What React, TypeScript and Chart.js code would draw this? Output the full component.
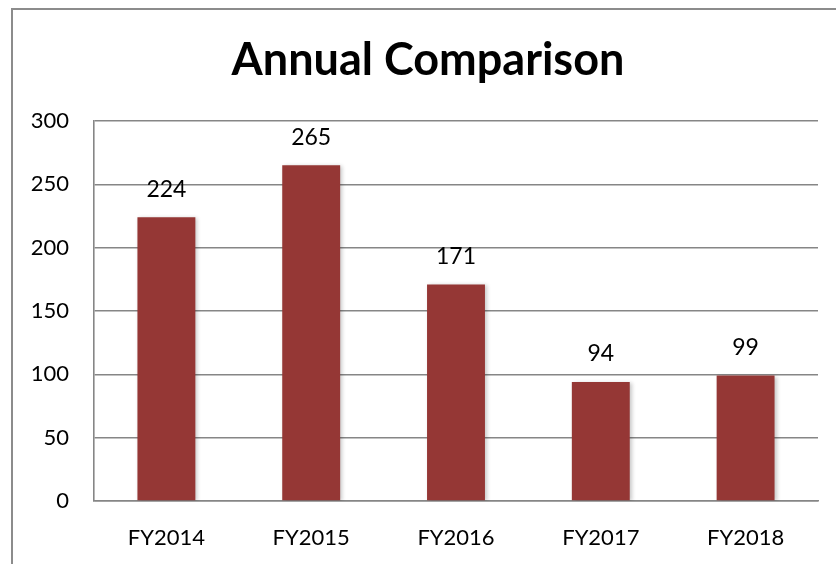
import React, { useEffect, useRef } from "react";
import { Chart, registerables } from "chart.js";

Chart.register(...registerables);

const categories = ["FY2014", "FY2015", "FY2016", "FY2017", "FY2018"];
const values = [224, 265, 171, 94, 99];
const yTicks = [0, 50, 100, 150, 200, 250, 300];
const titleText = "Annual Comparison";

const FONT = "Lato, 'Open Sans', sans-serif";

const barShadow = {
  id: "barShadow",
  beforeDatasetsDraw(chart: any) {
    const ctx = chart.ctx;
    ctx.save();
    ctx.shadowColor = "rgba(0,0,0,0.22)";
    ctx.shadowBlur = 4;
    ctx.shadowOffsetX = 2;
    ctx.shadowOffsetY = 1;
  },
  afterDatasetsDraw(chart: any) {
    chart.ctx.restore();
  },
};

const valueLabels = {
  id: "valueLabels",
  afterDatasetsDraw(chart: any) {
    const ctx = chart.ctx;
    const meta = chart.getDatasetMeta(0);
    ctx.save();
    ctx.shadowColor = "transparent";
    ctx.font = `23px ${FONT}`;
    ctx.fillStyle = "#000";
    ctx.textAlign = "center";
    ctx.textBaseline = "middle";
    meta.data.forEach((bar: any, i: number) => {
      ctx.fillText(String(chart.data.datasets[0].data[i]), bar.x, bar.y - 28);
    });
    ctx.restore();
  },
};

const centeredTitle = {
  id: "centeredTitle",
  afterDraw(chart: any) {
    const ctx = chart.ctx;
    ctx.save();
    ctx.font = `bold 45px ${FONT}`;
    ctx.fillStyle = "#000";
    ctx.textAlign = "center";
    ctx.textBaseline = "middle";
    ctx.fillText(titleText, chart.width / 2, 50);
    ctx.restore();
  },
};

export default function App() {
  const ref = useRef<HTMLCanvasElement | null>(null);
  useEffect(() => {
    if (!ref.current) return;
    const chart = new Chart(ref.current, {
      type: "bar",
      data: {
        labels: categories,
        datasets: [
          {
            data: values,
            backgroundColor: "#953735",
            borderWidth: 0,
            barPercentage: 0.4,
            categoryPercentage: 1,
          },
        ],
      },
      plugins: [barShadow, centeredTitle, valueLabels],
      options: {
        animation: false,
        responsive: true,
        maintainAspectRatio: false,
        layout: { padding: { left: 0, right: 25, top: 111, bottom: 0 } },
        plugins: {
          legend: { display: false },
          tooltip: { enabled: false },
          title: { display: false },
        },
        scales: {
          x: {
            grid: { display: false, drawTicks: false },
            border: { display: true, color: "#868686", width: 1.6 },
            ticks: {
              color: "#000",
              font: { family: FONT, size: 22 },
              padding: 24,
            },
            afterFit(scale: any) {
              scale.height = 63;
            },
          },
          y: {
            min: 0,
            max: 300,
            afterBuildTicks(scale: any) {
              scale.ticks = yTicks.map((v) => ({ value: v }));
            },
            grid: { color: "#868686", lineWidth: 1.6, drawTicks: false },
            border: { display: true, color: "#868686", width: 1.6 },
            ticks: {
              color: "#000",
              font: { family: FONT, size: 22 },
              padding: 25,
            },
            afterFit(scale: any) {
              scale.width = 81;
            },
          },
        },
      },
    });
    return () => chart.destroy();
  }, []);

  return (
    <div
      style={{
        position: "fixed",
        left: 0,
        top: 0,
        width: 836,
        height: 564,
        overflow: "hidden",
        background: "#fff",
      }}
    >
      <div
        style={{
          position: "absolute",
          left: 11,
          top: 8,
          width: 850,
          height: 580,
          border: "2px solid #8c8c8c",
          boxSizing: "border-box",
        }}
      >
        <div style={{ position: "absolute", left: 0, top: 0, width: 830, height: 554 }}>
          <canvas ref={ref} />
        </div>
      </div>
    </div>
  );
}
